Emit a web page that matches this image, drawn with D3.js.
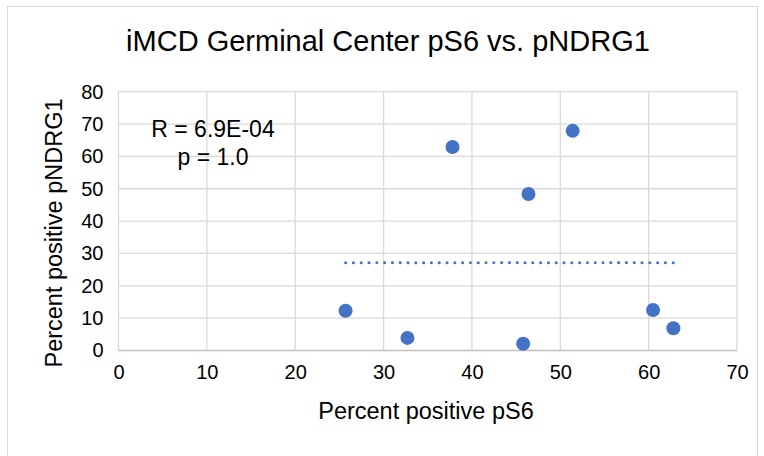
<!DOCTYPE html>
<html>
<head>
<meta charset="utf-8">
<script src="https://cdn.jsdelivr.net/npm/d3@7"></script>
<style>
  body { margin: 0; background: #fff; }
  text { font-family: "Liberation Sans", Arial, sans-serif; fill: #000; }
</style>
</head>
<body>
<svg width="764" height="456"></svg>
<script>
// data
var pS6 = [25.7, 32.7, 37.8, 45.8, 46.4, 51.4, 60.5, 62.8];
var pNDRG1 = [12.3, 3.9, 62.9, 2.1, 48.4, 67.9, 12.5, 6.9];
var xTicks = [0, 10, 20, 30, 40, 50, 60, 70];
var yTicks = [0, 10, 20, 30, 40, 50, 60, 70, 80];
var statLines = ["R = 6.9E-04", "p = 1.0"];

var svg = d3.select("svg");
var blue = "#4472c4";

// chart border
svg.append("rect")
    .attr("x", 7.5).attr("y", 6.5)
    .attr("width", 750).attr("height", 470)
    .attr("fill", "#fff")
    .attr("stroke", "#d9d9d9");

var x = d3.scaleLinear().domain([0, 70]).range([118.5, 737]);
var y = d3.scaleLinear().domain([0, 80]).range([350.5, 91.7]);

// grid
svg.append("g").selectAll("line").data(xTicks).enter().append("line")
    .attr("x1", function(d) { return x(d); }).attr("x2", function(d) { return x(d); })
    .attr("y1", y(80)).attr("y2", y(0))
    .attr("stroke", "#d9d9d9").attr("stroke-width", 1.3);

svg.append("g").selectAll("line").data(yTicks).enter().append("line")
    .attr("x1", x(0)).attr("x2", x(70))
    .attr("y1", function(d) { return y(d); }).attr("y2", function(d) { return y(d); })
    .attr("stroke", function(d) { return d === 0 ? "#bfbfbf" : "#d9d9d9"; })
    .attr("stroke-width", 1.3);

// axes (labels only, lines drawn as grid)
var xAxis = svg.append("g")
    .attr("transform", "translate(0," + y(0) + ")")
    .call(d3.axisBottom(x).tickValues(xTicks).tickSize(0).tickPadding(14));
var yAxis = svg.append("g")
    .attr("transform", "translate(" + x(0) + ",0)")
    .call(d3.axisLeft(y).tickValues(yTicks).tickSize(0).tickPadding(15));
[xAxis, yAxis].forEach(function(a) {
    a.select(".domain").remove();
    a.selectAll("text").attr("font-size", 20)
        .attr("font-family", "Liberation Sans, Arial, sans-serif").attr("fill", "#000");
});

// trend line (least squares)
var n = pS6.length;
var mx = d3.mean(pS6), my = d3.mean(pNDRG1);
var sxy = d3.sum(pS6, function(v, i) { return (v - mx) * (pNDRG1[i] - my); });
var sxx = d3.sum(pS6, function(v) { return (v - mx) * (v - mx); });
var slope = sxy / sxx, icpt = my - slope * mx;
var xr = d3.extent(pS6);
svg.append("line")
    .attr("x1", x(xr[0])).attr("x2", x(xr[1]))
    .attr("y1", y(icpt + slope * xr[0])).attr("y2", y(icpt + slope * xr[1]))
    .attr("stroke", blue).attr("stroke-width", 3)
    .attr("stroke-linecap", "round")
    .attr("stroke-dasharray", "0.1,7.7");

// points
svg.append("g").selectAll("circle").data(pS6).enter().append("circle")
    .attr("cx", function(d) { return x(d); })
    .attr("cy", function(d, i) { return y(pNDRG1[i]); })
    .attr("r", 7)
    .attr("fill", blue);

// stats
svg.append("g").selectAll("text").data(statLines).enter().append("text")
    .attr("x", 213)
    .attr("y", function(d, i) { return 137 + i * 27.6; })
    .attr("text-anchor", "middle")
    .attr("font-size", 23)
    .text(function(d) { return d; });

// titles
svg.append("text")
    .attr("x", 388).attr("y", 51)
    .attr("text-anchor", "middle")
    .attr("font-size", 29)
    .text("iMCD Germinal Center pS6 vs. pNDRG1");

svg.append("text")
    .attr("x", 426).attr("y", 419)
    .attr("text-anchor", "middle")
    .attr("font-size", 23.5)
    .text("Percent positive pS6");

svg.append("text")
    .attr("transform", "translate(62,233) rotate(-90)")
    .attr("text-anchor", "middle")
    .attr("font-size", 23.5)
    .text("Percent positive pNDRG1");
</script>
</body>
</html>
